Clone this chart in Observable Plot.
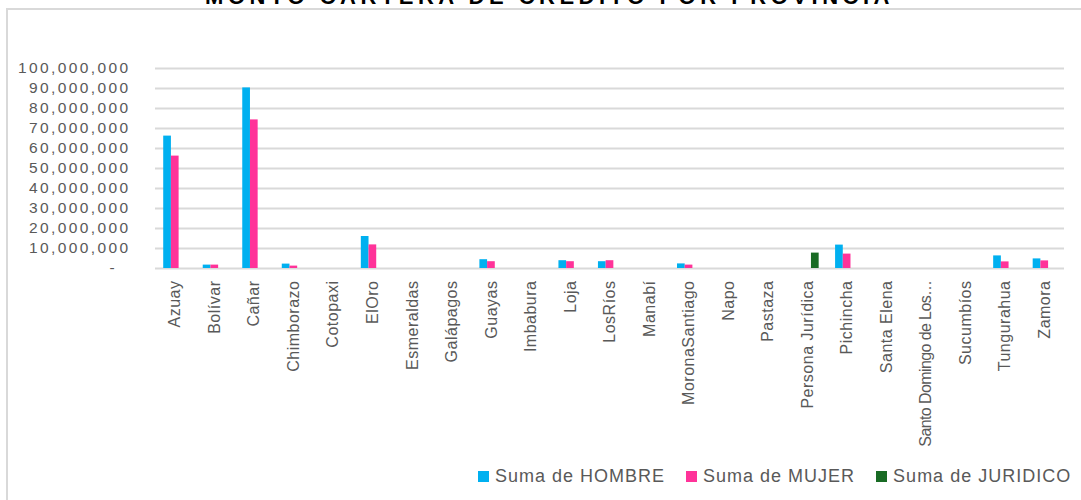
<!DOCTYPE html>
<html>
<head>
<meta charset="utf-8">
<script src="https://cdn.jsdelivr.net/npm/d3@7"></script>
<script src="https://cdn.jsdelivr.net/npm/@observablehq/plot@0.6"></script>
<style>
  html, body { margin: 0; padding: 0; background: #fff; }
  #wrap { position: relative; width: 1081px; height: 500px; overflow: hidden; font-family: "Liberation Sans", Arial, sans-serif; }
  #frame { position: absolute; left: 6px; top: 8px; width: 1200px; height: 700px; border-top: 2px solid #d9d9d9; border-left: 2px solid #d9d9d9; }
  #title { position: absolute; left: 9px; width: 1081px; top: -14px; text-align: center; font-weight: bold; font-size: 22px; line-height: 22px; letter-spacing: 4.5px; color: #000; white-space: nowrap; }
  #chart { position: absolute; left: 0; top: 0; }
  #legend { position: absolute; top: 466px; left: 478px; display: flex; align-items: center; font-size: 18px; letter-spacing: 1px; color: #595959; white-space: nowrap; }
  .item { display: flex; align-items: center; margin-right: 21px; }
  .sw { width: 11px; height: 11px; margin-right: 6px; }
  g[aria-label="y-axis tick label"] text { letter-spacing: 2.4px; }
  g[aria-label="x-axis tick label"] text { letter-spacing: 0.5px; }
</style>
</head>
<body>
<div id="wrap">
  <div id="frame"></div>
  <div id="title"></div>
  <div id="chart"></div>
  <div id="legend"></div>
</div>
<script>
const titulo = "MONTO CARTERA DE CRÉDITO POR PROVINCIA";
const provincias = ["Azuay","Bolívar","Cañar","Chimborazo","Cotopaxi","ElOro","Esmeraldas","Galápagos","Guayas","Imbabura","Loja","LosRíos","Manabí","MoronaSantiago","Napo","Pastaza","Persona Jurídica","Pichincha","Santa Elena","Santo Domingo de Los…","Sucumbíos","Tungurahua","Zamora"];
const hombre = [66200000, 1700000, 90300000, 2200000, 0, 16000000, 0, 0, 4400000, 0, 3900000, 3400000, 0, 2300000, 0, 0, 0, 11700000, 0, 0, 0, 6300000, 4800000];
const mujer = [56200000, 1700000, 74300000, 1200000, 0, 11800000, 0, 0, 3400000, 0, 3400000, 3900000, 0, 1700000, 0, 0, 0, 7200000, 0, 0, 0, 3300000, 3800000];
const juridico = [0, 0, 0, 0, 0, 0, 0, 0, 0, 0, 0, 0, 0, 0, 0, 0, 7700000, 0, 0, 0, 0, 0, 0];
const series = ["Suma de HOMBRE", "Suma de MUJER", "Suma de JURIDICO"];
const colores = ["#00b0f0", "#ff3399", "#196b24"];
const yTicks = [0, 10000000, 20000000, 30000000, 40000000, 50000000, 60000000, 70000000, 80000000, 90000000, 100000000];

const valores = [hombre, mujer, juridico];
const rows = [];
series.forEach((s, k) => provincias.forEach((p, i) => rows.push({provincia: p, serie: s, valor: valores[k][i]})));

document.getElementById("title").textContent = titulo;

const barW = 7.7;
const band = (1081 - 155 - 17) / provincias.length;
const inset = (band - barW) / 2;
const offsets = [-barW, 0, barW];

const fmt = d3.format(",");
const chart = Plot.plot({
  width: 1081,
  height: 470,
  marginLeft: 155,
  marginRight: 17,
  marginTop: 68,
  marginBottom: 202,
  style: {fontFamily: "'Liberation Sans', Arial, sans-serif", color: "#595959", background: "transparent"},
  x: {domain: provincias, padding: 0, round: false},
  y: {domain: [0, 100000000]},
  color: {domain: series, range: colores},
  marks: [
    Plot.ruleY(yTicks, {stroke: "#d9d9d9", strokeWidth: 2}),
    ...series.map((s, k) => Plot.barY(rows.filter(r => r.serie === s && r.valor > 0), {
      x: "provincia", y: "valor", fill: "serie", dx: offsets[k], insetLeft: inset, insetRight: inset
    })),
    Plot.axisY(yTicks, {tickSize: 0, tickPadding: 25, fontSize: 15.5, tickFormat: d => d === 0 ? "-\u00a0\u00a0" : fmt(d), label: null}),
    Plot.axisX({tickSize: 0, tickPadding: 12, tickRotate: -90, fontSize: 16, label: null})
  ]
});
document.getElementById("chart").appendChild(chart);

// tighten the one long truncated label so it ends where the reference's does
d3.select(chart).selectAll('g[aria-label="x-axis tick label"] text')
  .filter(function() { return this.textContent.length > 18; })
  .style("letter-spacing", "-0.6px");

const legend = document.getElementById("legend");
series.forEach((s, k) => {
  const it = document.createElement("div");
  it.className = "item";
  const sw = document.createElement("div");
  sw.className = "sw";
  sw.style.background = colores[k];
  const tx = document.createElement("span");
  tx.textContent = s;
  it.appendChild(sw);
  it.appendChild(tx);
  legend.appendChild(it);
});
</script>
</body>
</html>
